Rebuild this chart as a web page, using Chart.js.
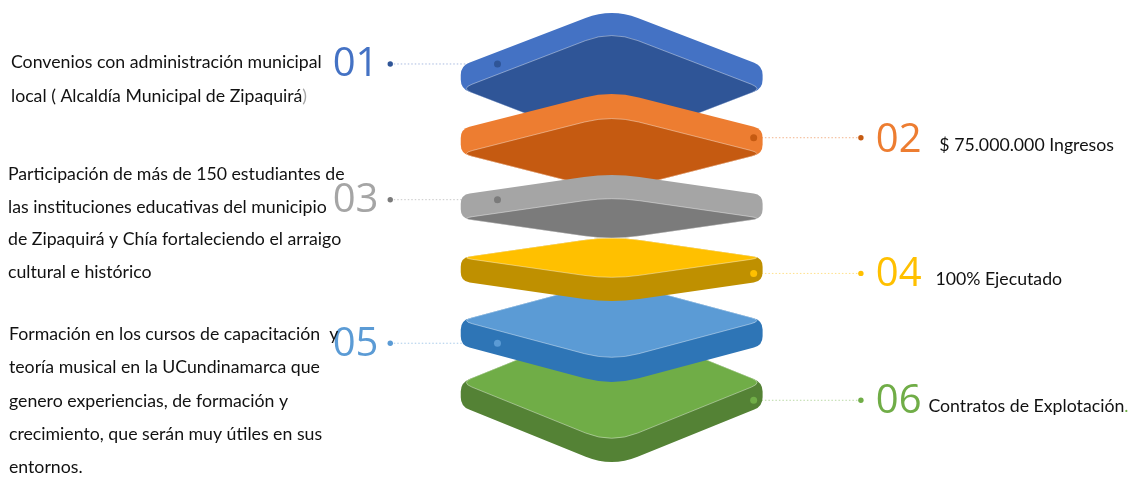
<!DOCTYPE html>
<html><head><meta charset="utf-8">
<script src="https://cdn.jsdelivr.net/npm/chart.js@4/dist/chart.umd.min.js"></script>
<style>html,body{margin:0;padding:0;background:#fff;overflow:hidden}canvas{display:block}</style>
</head><body>
<canvas id="c" width="1133" height="479"></canvas>
<script>
// ---- content ----
const stepLabels = ['01','02','03','04','05','06'];
const stepTexts = [
  ['Convenios con administración municipal','local ( Alcaldía Municipal de Zipaquirá)'],
  ['$ 75.000.000 Ingresos'],
  ['Participación de más de 150 estudiantes de','las instituciones educativas del municipio','de Zipaquirá y Chía fortaleciendo el arraigo','cultural e histórico'],
  ['100% Ejecutado'],
  ['Formación en los cursos de capacitación  y','teoría musical en la UCundinamarca que','genero experiencias, de formación y','crecimiento, que serán muy útiles en sus','entornos.'],
  ['Contratos de Explotación.']
];
// last character of some lines is coloured differently in the original
const tailColors = { '0-1': '#A6A6A6', '5-0': '#70AD47' };
const stepColors = ['#4472C4','#ED7D31','#A5A5A5','#FFC000','#5B9BD5','#70AD47'];
const stepDarkColors = ['#2F5597','#C55A11','#7B7B7B','#BF9000','#2E75B6','#548235'];
const stepLineColors = ['#A9BCE0','#F2B48C','#C9C9C9','#FFE08A','#A9CBEA','#B9D8A4'];

// ---- layout (pixel-space values mapped through the chart scales) ----
const layout = {
  layerLeft: 460, layerCenter: 612, layerRight: 764,
  faceY:  [86, 152, 218, 258, 322, 385],
  halfH:  [59, 39, 22, 22, 41, 62],
  depth:  [23, 25, 24, 24, 25, 24],
  view:   ['below','below','below','above','above','above'],
  drawOrder: [5,4,3,0,1,2],
  anchorY: [61, 136, 199, 274, 345, 403],
  side:   ['left','right','left','right','left','right'],
  innerDotX: {left: 497, right: 755},
  outerDotX: {left: 389, right: 863},
  numX: {left: 331, right: 878},
  numBase: [73, 151, 212, 287, 358, 416],
  textX: [7, 942, 4, 938, 5, 931],
  textBase: [65, 150, 179, 286, 342, 415],
  textStep: [35, 0, 33.2, 0, 33.7, 0]
};

function roundPoly(ctx, pts, rads) {
  const n = pts.length;
  ctx.beginPath();
  for (let i = 0; i < n; i++) {
    const p = pts[i], a = pts[(i - 1 + n) % n], b = pts[(i + 1) % n];
    const d = rads[i];
    const da = Math.hypot(a[0]-p[0], a[1]-p[1]), db = Math.hypot(b[0]-p[0], b[1]-p[1]);
    const ka = Math.min(d, da/2) / da, kb = Math.min(d, db/2) / db;
    const s = [p[0] + (a[0]-p[0])*ka, p[1] + (a[1]-p[1])*ka];
    const e = [p[0] + (b[0]-p[0])*kb, p[1] + (b[1]-p[1])*kb];
    if (i === 0) ctx.moveTo(s[0], s[1]); else ctx.lineTo(s[0], s[1]);
    ctx.quadraticCurveTo(p[0], p[1], e[0], e[1]);
  }
  ctx.closePath();
}

const layerPlugin = {
  id: 'layers',
  beforeDatasetDraw(chart, args) {
    if (chart.data.datasets[args.index].id !== 'dots') return;
    const ctx = chart.ctx, xs = chart.scales.x, ys = chart.scales.y;
    const X = v => xs.getPixelForValue(v), Y = v => ys.getPixelForValue(v);
    const L = X(layout.layerLeft), C = X(layout.layerCenter), R = X(layout.layerRight);
    ctx.save();
    layout.drawOrder.forEach(i => {
      const cy = layout.faceY[i], h = layout.halfH[i], t = layout.depth[i];
      const face = [[L,Y(cy)],[C,Y(cy-h)],[R,Y(cy)],[C,Y(cy+h)]];
      let hull, hullCol, faceCol;
      if (layout.view[i] === 'below') {
        hull = [[L,Y(cy-t)],[C,Y(cy-h-t)],[R,Y(cy-t)],[R,Y(cy)],[C,Y(cy+h)],[L,Y(cy)]];
        hullCol = stepColors[i]; faceCol = stepDarkColors[i];
      } else {
        hull = [[L,Y(cy)],[C,Y(cy-h)],[R,Y(cy)],[R,Y(cy+t)],[C,Y(cy+h+t)],[L,Y(cy+t)]];
        hullCol = stepDarkColors[i]; faceCol = stepColors[i];
      }
      roundPoly(ctx, hull, [9,28,9,9,28,9]);
      ctx.fillStyle = hullCol; ctx.fill();
      roundPoly(ctx, face, [12,28,12,28]);
      ctx.fillStyle = faceCol; ctx.fill();
      ctx.strokeStyle = 'rgba(255,255,255,0.4)'; ctx.lineWidth = 1; ctx.stroke();
    });
    ctx.restore();
  },
  afterDraw(chart) {
    const ctx = chart.ctx, xs = chart.scales.x, ys = chart.scales.y;
    const X = v => xs.getPixelForValue(v), Y = v => ys.getPixelForValue(v);
    ctx.save();
    ctx.font = '16px Lato';
    const w = ctx.measureText(stepTexts[0][0]).width;
    const fs = 16 * 311 / w;
    ctx.textBaseline = 'alphabetic';
    ctx.textAlign = 'left';
    stepLabels.forEach((lab, i) => {
      ctx.font = '400 40px "Open Sans"';
      ctx.fillStyle = stepColors[i];
      ctx.fillText(lab, X(layout.numX[layout.side[i]]), Y(layout.numBase[i]));
      ctx.font = fs.toFixed(2) + 'px Lato';
      stepTexts[i].forEach((line, k) => {
        const x = X(layout.textX[i]), y = Y(layout.textBase[i] + k * layout.textStep[i]);
        const tc = tailColors[i + '-' + k];
        if (tc) {
          const head = line.slice(0, -1);
          ctx.fillStyle = '#111'; ctx.fillText(head, x, y);
          ctx.fillStyle = tc; ctx.fillText(line.slice(-1), x + ctx.measureText(head).width, y);
        } else {
          ctx.fillStyle = '#111'; ctx.fillText(line, x, y);
        }
      });
    });
    ctx.restore();
  }
};

const datasets = stepLabels.map((lab, i) => {
  const s = layout.side[i];
  return {
    label: lab,
    data: [{x: layout.outerDotX[s], y: layout.anchorY[i]}, {x: layout.innerDotX[s], y: layout.anchorY[i]}],
    showLine: true, borderColor: stepLineColors[i], borderWidth: 1, borderDash: [1.5, 2],
    pointRadius: 0, order: 2
  };
});
const dotData = [], dotColors = [], dotRadii = [];
stepLabels.forEach((lab, i) => {
  const s = layout.side[i];
  const c = layout.view[i] === 'below' ? stepDarkColors[i] : stepColors[i];
  dotData.push({x: layout.outerDotX[s], y: layout.anchorY[i]}); dotColors.push(c); dotRadii.push(2.7);
  dotData.push({x: layout.innerDotX[s], y: layout.anchorY[i]}); dotColors.push(c); dotRadii.push(3.5);
});
datasets.push({id: 'dots', label: 'dots', data: dotData, showLine: false,
  pointRadius: dotRadii, pointBackgroundColor: dotColors, pointBorderWidth: 0, order: 1});

new Chart(document.getElementById('c'), {
  type: 'scatter',
  data: { datasets },
  options: {
    responsive: false, animation: false,
    layout: { padding: 0 },
    plugins: { legend: { display: false }, tooltip: { enabled: false } },
    scales: {
      x: { type: 'linear', min: 0, max: 1133, display: false },
      y: { type: 'linear', min: 0, max: 479, reverse: true, display: false }
    }
  },
  plugins: [layerPlugin]
});
</script>
</body></html>
